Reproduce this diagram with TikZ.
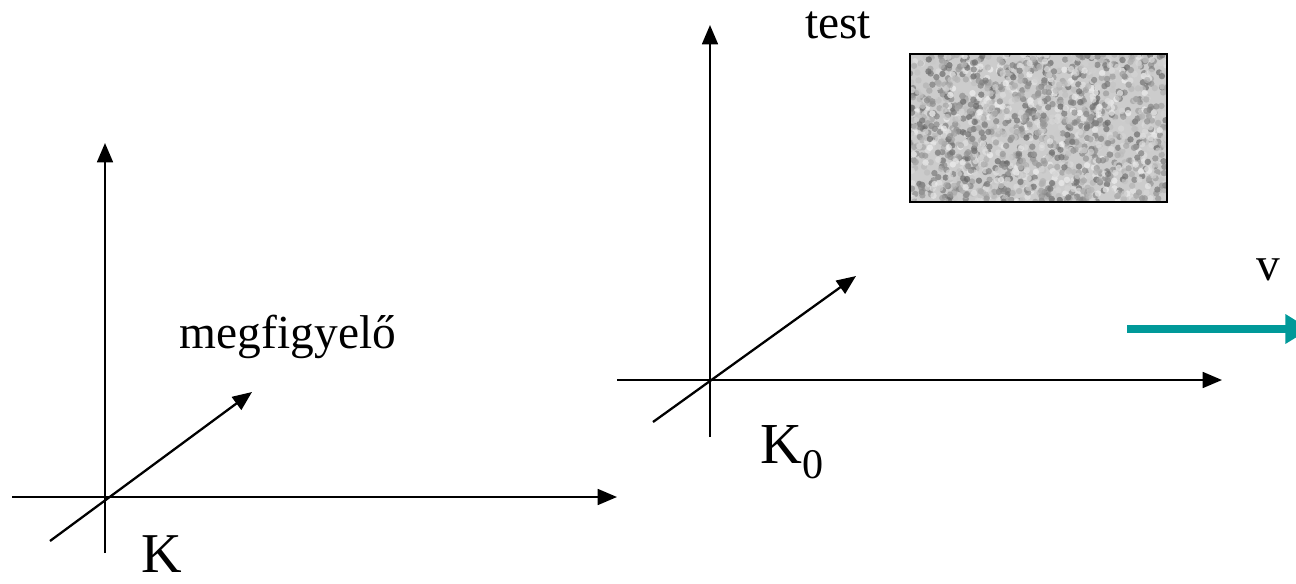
\documentclass[tikz,border=0pt]{standalone}
\usepackage{fontspec}
\setmainfont{Liberation Serif}
\usetikzlibrary{arrows.meta}
\definecolor{tealv}{RGB}{0,153,153}
\begin{document}
\begin{tikzpicture}[x=0.02cm,y=-0.02cm,
  axis/.style={line width=1.3pt,-{Triangle[length=11pt,width=9pt]}},
  every node/.style={font=\fontsize{27}{30}\selectfont,inner sep=0pt}]
\useasboundingbox (0,0) rectangle (1296,583);
% K frame
\coordinate (kx0) at (12,497);  \coordinate (kx1) at (617,497);
\coordinate (ky0) at (105,553); \coordinate (ky1) at (105,143);
\coordinate (kz0) at (50,541);  \coordinate (kz1) at (252,392);
\draw[axis] (kx0) -- (kx1);
\draw[axis] (ky0) -- (ky1);
\draw[axis] (kz0) -- (kz1);
\node (k) at (162,554) {\fontsize{32}{34}\selectfont K};
\node (obs) at (288,337) {megfigyelő};
% K0 frame
\coordinate (bx0) at (617,380); \coordinate (bx1) at (1222,380);
\coordinate (by0) at (710,437); \coordinate (by1) at (710,25);
\coordinate (bz0) at (653,422); \coordinate (bz1) at (856,276);
\draw[axis] (bx0) -- (bx1);
\draw[axis] (by0) -- (by1);
\draw[axis] (bz0) -- (bz1);
\node (k0) at (792,452) {\fontsize{33}{36}\selectfont K\raisebox{-0.25em}{\fontsize{24}{26}\selectfont 0}};
\node (test) at (838,25) {test};
% body
\begin{scope}
\clip (910,54) rectangle (1167,202);
\fill[gray!40] (910,54) rectangle (1167,202);
\pgfmathsetseed{7}
\foreach \i in {1,...,1600}{
  \pgfmathsetmacro{\px}{910+257*rnd}
  \pgfmathsetmacro{\py}{54+148*rnd}
  \pgfmathsetmacro{\pg}{5+55*rnd}
  \fill[black!\pg!white,opacity=0.7] (\px,\py) circle (3.2);
}
\end{scope}
\draw[line width=1.2pt] (910,54) rectangle (1167,202);
% velocity
\coordinate (v0) at (1127,329); \coordinate (v1) at (1310,329);
\draw[tealv,line width=5pt,-{Triangle[length=14pt,width=16pt]}] (v0) -- (v1);
\node (v) at (1268,270) {v};
\end{tikzpicture}
\end{document}
